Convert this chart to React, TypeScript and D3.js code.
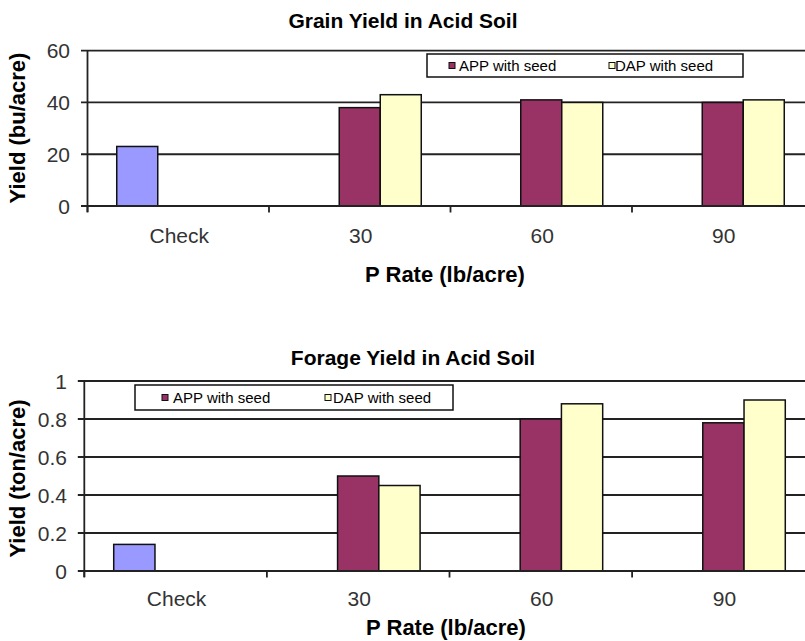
import React from 'react';
import * as d3 from 'd3';

// categories and series
const categories = ['Check', '30', '60', '90'];
const seriesNames = ['Check', 'APP with seed', 'DAP with seed'];
const seriesColors = ['#9999ff', '#993366', '#ffffcc'];

// grain yield (bu/acre)
const grainCheck = [23, null, null, null];
const grainApp = [null, 38, 41, 40];
const grainDap = [null, 43, 40, 41];
const grainTicks = [0, 20, 40, 60];

// forage yield (ton/acre)
const forageCheck = [0.14, null, null, null];
const forageApp = [null, 0.5, 0.8, 0.78];
const forageDap = [null, 0.45, 0.88, 0.9];
const forageTicks = [0, 0.2, 0.4, 0.6, 0.8, 1];

const FONT = '"Liberation Sans", Arial, sans-serif';
const LINE = '#222';

type Layout = {
  left: number;
  step: number;
  y0: number;
  yTop: number;
  titleX: number;
  titleY: number;
  xLabelY: number;
  xTitleX: number;
  xTitleY: number;
  yTitleX: number;
  yTitleY: number;
  yLabelRight: number;
  legend: { x: number; y: number; w: number; h: number; marks: number[]; texts: number[] };
};

interface PanelProps {
  title: string;
  yTitle: string;
  series: (number | null)[][];
  ticks: number[];
  layout: Layout;
}

const Panel: React.FC<PanelProps> = ({ title, yTitle, series, ticks, layout }) => {
  const L = layout;
  const x = d3.scaleBand<string>()
    .domain(categories)
    .range([L.left, L.left + L.step * categories.length])
    .paddingInner(0)
    .paddingOuter(0);
  const xs = d3.scaleBand<string>()
    .domain(seriesNames)
    .range([0, x.bandwidth()])
    .paddingInner(0)
    .paddingOuter(0.713);
  const y = d3.scaleLinear()
    .domain([0, ticks[ticks.length - 1]])
    .range([L.y0, L.yTop]);
  const right = L.left + L.step * categories.length;
  const boundaries = d3.range(categories.length).map(i => L.left + i * L.step);
  const lg = L.legend;

  return (
    <g fontFamily={FONT}>
      <text x={L.titleX} y={L.titleY} textAnchor="middle" fontSize={21} fontWeight="bold">{title}</text>

      {/* gridlines + y ticks */}
      {ticks.map(t => (
        <g key={t}>
          <line x1={L.left - 6.5} x2={right} y1={y(t)} y2={y(t)} stroke={LINE} strokeWidth={1.8} />
          <text x={L.yLabelRight} y={y(t)} dy="0.36em" textAnchor="end" fontSize={21} fill="#333">{String(t)}</text>
        </g>
      ))}

      {/* bars */}
      {series.map((vals, si) =>
        vals.map((v, ci) => v == null ? null : (
          <rect
            key={`${si}-${ci}`}
            x={(x(categories[ci]) as number) + (xs(seriesNames[si]) as number)}
            y={y(v)}
            width={xs.bandwidth()}
            height={L.y0 - y(v)}
            fill={seriesColors[si]}
            stroke="#111"
            strokeWidth={1.5}
          />
        ))
      )}

      {/* axes */}
      <line x1={L.left} x2={L.left} y1={L.yTop} y2={L.y0 + 6} stroke={LINE} strokeWidth={1.8} />
      <line x1={L.left} x2={right} y1={L.y0} y2={L.y0} stroke={LINE} strokeWidth={1.8} />
      {boundaries.map(b => (
        <line key={b} x1={b} x2={b} y1={L.y0} y2={L.y0 + 6.5} stroke={LINE} strokeWidth={1.8} />
      ))}
      {categories.map(c => (
        <text key={c} x={(x(c) as number) + x.bandwidth() / 2 + 1} y={L.xLabelY} textAnchor="middle" fontSize={21} fill="#333">{c}</text>
      ))}

      <text x={L.xTitleX} y={L.xTitleY} textAnchor="middle" fontSize={22} fontWeight="bold">P Rate (lb/acre)</text>
      <text transform={`translate(${L.yTitleX},${L.yTitleY}) rotate(-90)`} textAnchor="middle" fontSize={22} fontWeight="bold">{yTitle}</text>

      {/* legend */}
      <rect x={lg.x} y={lg.y} width={lg.w} height={lg.h} fill="#fff" stroke="#111" strokeWidth={1.5} />
      {seriesNames.slice(1).map((s, i) => (
        <g key={s}>
          <rect x={lg.marks[i]} y={lg.y + lg.h / 2 - 3} width={6} height={6} fill={seriesColors[i + 1]} stroke="#111" strokeWidth={1} />
          <text x={lg.texts[i]} y={lg.y + lg.h / 2} dy="0.36em" fontSize={15}>{s}</text>
        </g>
      ))}
    </g>
  );
};

const grainLayout: Layout = {
  left: 87.5, step: 181.5, y0: 206, yTop: 50.7,
  titleX: 403, titleY: 28, xLabelY: 243, xTitleX: 445, xTitleY: 282,
  yTitleX: 25, yTitleY: 128, yLabelRight: 70,
  legend: { x: 427, y: 54, w: 316, h: 23, marks: [449, 609], texts: [459, 615] },
};

const forageLayout: Layout = {
  left: 84.3, step: 182.6, y0: 571, yTop: 381,
  titleX: 413, titleY: 365, xLabelY: 606, xTitleX: 446, xTitleY: 635,
  yTitleX: 25, yTitleY: 478.5, yLabelRight: 67,
  legend: { x: 135, y: 385, w: 318, h: 25, marks: [162, 325], texts: [173, 333] },
};

export default function App() {
  return (
    <svg
      width={805}
      height={641}
      style={{ position: 'absolute', left: 0, top: 0, background: '#fff' }}
    >
      <rect width={805} height={641} fill="#fff" />
      <Panel
        title="Grain Yield in Acid Soil"
        yTitle="Yield (bu/acre)"
        series={[grainCheck, grainApp, grainDap]}
        ticks={grainTicks}
        layout={grainLayout}
      />
      <Panel
        title="Forage Yield in Acid Soil"
        yTitle="Yield (ton/acre)"
        series={[forageCheck, forageApp, forageDap]}
        ticks={forageTicks}
        layout={forageLayout}
      />
    </svg>
  );
}
